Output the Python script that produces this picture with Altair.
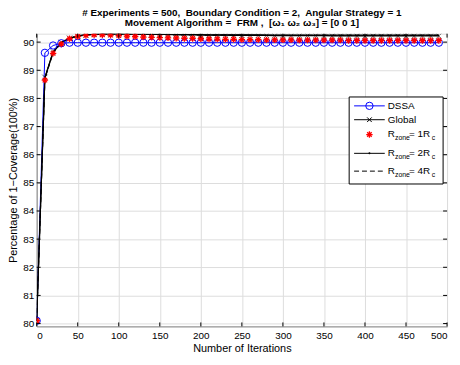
import altair as alt
import pandas as pd

# ---------------- data ----------------
iterations = [0, 10, 20, 30, 40, 50, 60, 70, 80, 90,
              100, 110, 120, 130, 140, 150, 160, 170, 180, 190,
              200, 210, 220, 230, 240, 250, 260, 270, 280, 290,
              300, 310, 320, 330, 340, 350, 360, 370, 380, 390,
              400, 410, 420, 430, 440, 450, 460, 470, 480, 490]

dssa = [80.10, 89.62, 89.88, 89.96, 89.98, 89.98, 89.98, 89.98, 89.98, 89.98,
        89.98, 89.98, 89.98, 89.98, 89.98, 89.98, 89.98, 89.98, 89.98, 89.98,
        89.98, 89.98, 89.98, 89.98, 89.98, 89.98, 89.98, 89.98, 89.98, 89.98,
        89.98, 89.98, 89.98, 89.98, 89.98, 89.98, 89.98, 89.98, 89.98, 89.98,
        89.98, 89.98, 89.98, 89.98, 89.98, 89.98, 89.98, 89.98, 89.98, 89.98]

global_cov = [80.10, 88.75, 89.66, 89.99, 90.14, 90.22, 90.26, 90.28, 90.29, 90.29,
              90.29, 90.28, 90.28, 90.28, 90.27, 90.27, 90.27, 90.26, 90.26, 90.26,
              90.25, 90.25, 90.25, 90.25, 90.24, 90.24, 90.24, 90.24, 90.24, 90.23,
              90.23, 90.23, 90.23, 90.23, 90.23, 90.23, 90.22, 90.22, 90.22, 90.22,
              90.22, 90.22, 90.22, 90.22, 90.22, 90.22, 90.22, 90.22, 90.22, 90.22]

rzone1 = [80.10, 88.65, 89.60, 89.93, 90.12, 90.20, 90.24, 90.26, 90.26, 90.25,
          90.23, 90.21, 90.20, 90.18, 90.17, 90.16, 90.15, 90.14, 90.13, 90.13,
          90.12, 90.11, 90.11, 90.10, 90.10, 90.09, 90.09, 90.09, 90.08, 90.08,
          90.08, 90.08, 90.07, 90.07, 90.07, 90.07, 90.07, 90.07, 90.06, 90.06,
          90.06, 90.06, 90.06, 90.06, 90.06, 90.06, 90.06, 90.06, 90.06, 90.06]

rzone2 = [80.10, 88.72, 89.64, 89.98, 90.14, 90.22, 90.26, 90.28, 90.29, 90.29,
          90.29, 90.29, 90.28, 90.28, 90.28, 90.28, 90.27, 90.27, 90.27, 90.27,
          90.27, 90.26, 90.26, 90.26, 90.26, 90.26, 90.26, 90.26, 90.25, 90.25,
          90.25, 90.25, 90.25, 90.25, 90.25, 90.25, 90.25, 90.25, 90.25, 90.25,
          90.25, 90.25, 90.25, 90.25, 90.25, 90.25, 90.25, 90.25, 90.25, 90.25]

rzone4 = [80.10, 88.70, 89.63, 89.97, 90.13, 90.21, 90.25, 90.27, 90.28, 90.28,
          90.28, 90.28, 90.27, 90.27, 90.27, 90.27, 90.26, 90.26, 90.26, 90.26,
          90.25, 90.25, 90.25, 90.25, 90.25, 90.25, 90.24, 90.24, 90.24, 90.24,
          90.24, 90.24, 90.24, 90.24, 90.24, 90.24, 90.24, 90.24, 90.24, 90.24,
          90.24, 90.24, 90.24, 90.24, 90.24, 90.24, 90.24, 90.24, 90.24, 90.24]

x_ticks = [0, 50, 100, 150, 200, 250, 300, 350, 400, 450, 500]
y_ticks = [80, 81, 82, 83, 84, 85, 86, 87, 88, 89, 90]

NB = "\u00a0"
title_lines = [f"# Experiments = 500,{NB} Boundary Condition = 2,{NB} Angular Strategy = 1",
               f"Movement Algorithm ={NB} FRM ,{NB} [\u03c9\u2081 \u03c9\u2082 \u03c9\u2083] = [0 0 1]"]

# ---------------- layout ----------------
W, H = 415, 296
FONT = "Liberation Sans"

df = pd.DataFrame({"it": iterations, "dssa": dssa, "glob": global_cov,
                   "r1": rzone1, "r2": rzone2, "r4": rzone4})

xscale = alt.Scale(domain=[0, 500], nice=False, zero=False)
yscale = alt.Scale(domain=[79.9, 90.3], nice=False, zero=False)

xaxis = alt.Axis(values=x_ticks, title="Number of Iterations", tickSize=0,
                 labelPadding=4, titlePadding=2, grid=True, titleFontWeight="normal")
yaxis = alt.Axis(values=y_ticks, title="Percentage of 1\u2212Coverage(100%)",
                 tickSize=0, labelPadding=3, titlePadding=4, grid=True, titleFontWeight="normal")


def X(field="it"):
    return alt.X(f"{field}:Q", scale=xscale, axis=xaxis)


def Y(field):
    return alt.Y(f"{field}:Q", scale=yscale, axis=yaxis)


base = alt.Chart(df)

XMARK = "M-1,-1L1,1M-1,1L1,-1"
STAR = "M-1,0L1,0M0,-1L0,1M-0.7,-0.7L0.7,0.7M-0.7,0.7L0.7,-0.7"

dssa_line = base.mark_line(color="#0000ff", strokeWidth=1, clip=True).encode(x=X(), y=Y("dssa"))
dssa_pts = base.mark_point(shape="circle", size=55, filled=False, color="#0000ff",
                           strokeWidth=1, opacity=1, clip=True).encode(x=X(), y=Y("dssa"))

glob_line = base.mark_line(color="black", strokeWidth=1.2, clip=True).encode(x=X(), y=Y("glob"))
glob_pts = base.mark_point(shape=XMARK, size=30, filled=False, color="black",
                           strokeWidth=0.8, opacity=0.7, clip=True).encode(x=X(), y=Y("glob"))

r2_line = base.mark_line(color="black", strokeWidth=1.2, clip=True).encode(x=X(), y=Y("r2"))
r4_line = base.mark_line(color="black", strokeWidth=1.2, strokeDash=[5, 3], clip=True).encode(x=X(), y=Y("r4"))

r1_pts = base.mark_point(shape=STAR, size=42, filled=False, color="#ff0000",
                         strokeWidth=1.3, opacity=1, clip=True).encode(x=X(), y=Y("r1"))

# inward ticks (box style)
xt = pd.DataFrame({"it": x_ticks})
yt = pd.DataFrame({"dssa": y_ticks})
xt_bot = alt.Chart(xt).mark_rule(color="black", strokeWidth=1).encode(
    x=X(), y=alt.value(H - 4), y2=alt.value(H))
xt_top = alt.Chart(xt).mark_rule(color="black", strokeWidth=1).encode(
    x=X(), y=alt.value(0), y2=alt.value(4))
yt_left = alt.Chart(yt).mark_rule(color="black", strokeWidth=1).encode(
    y=Y("dssa"), x=alt.value(0), x2=alt.value(4))
yt_right = alt.Chart(yt).mark_rule(color="black", strokeWidth=1).encode(
    y=Y("dssa"), x=alt.value(W - 4), x2=alt.value(W))

# ---------------- legend (pixel layout) ----------------
LX0, LX1, LY0, LY1 = 316, 411, 64, 152
rows = {"dssa": 73, "glob": 87, "r1": 102, "r2": 121, "r4": 139}
seg0, seg1, segm = 321, 352, 336.5
tx = 355

one = pd.DataFrame({"a": [0]})

leg_box = alt.Chart(one).mark_rect(
    fill="white", stroke="black", strokeWidth=1).encode(
    x=alt.value(LX0), x2=alt.value(LX1), y=alt.value(LY0), y2=alt.value(LY1))


def seg(row, color, dash=None, width=1.0):
    kw = dict(color=color, strokeWidth=width)
    if dash:
        kw["strokeDash"] = dash
    return alt.Chart(one).mark_rule(**kw).encode(
        x=alt.value(seg0), x2=alt.value(seg1), y=alt.value(row), y2=alt.value(row))


def sym(row, shape, color, size, filled=False, sw=1.0):
    return alt.Chart(one).mark_point(
        shape=shape, size=size, filled=filled, color=color, strokeWidth=sw, opacity=1).encode(
        x=alt.value(segm), y=alt.value(row))


leg_items = [
    seg(rows["dssa"], "#0000ff"),
    sym(rows["dssa"], "circle", "#0000ff", 55),
    seg(rows["glob"], "black"),
    sym(rows["glob"], XMARK, "black", 22, sw=1.0),
    sym(rows["r1"], STAR, "#ff0000", 42, sw=1.3),
    seg(rows["r2"], "black"),
    sym(rows["r2"], "circle", "black", 4, filled=True),
    seg(rows["r4"], "black", dash=[5, 3]),
]


def txt(x, y, s, size=10):
    return alt.Chart(one).mark_text(
        text=s, font=FONT, fontSize=size, align="left", baseline="alphabetic", color="black").encode(
        x=alt.value(x), y=alt.value(y))


texts = [txt(tx, rows["dssa"] + 3.5, "DSSA"), txt(tx, rows["glob"] + 3.5, "Global")]
for key, lab in [("r1", "=" + NB + "1R"), ("r2", "=" + NB + "2R"), ("r4", "=" + NB + "4R")]:
    yb = rows[key] + 2.5
    texts.append(txt(tx, yb, "R"))
    texts.append(txt(tx + 7.3, yb + 3.2, "zone", 7))
    texts.append(txt(tx + 21.5, yb, lab))
    texts.append(txt(tx + 44.5, yb + 3.2, "c", 7))

chart = alt.layer(
    dssa_line, glob_line, r2_line, r4_line, glob_pts, dssa_pts, r1_pts,
    xt_bot, xt_top, yt_left, yt_right,
    leg_box, *leg_items, *texts,
).properties(
    width=W, height=H,
    padding={"left": 29, "top": 24, "right": 5, "bottom": 30},
    autosize=alt.AutoSizeParams(type="none"),
    title=alt.TitleParams(text=title_lines, anchor="middle", fontSize=10, fontWeight="bold",
                          font=FONT, lineHeight=10, offset=5, color="black"),
).configure_view(stroke="black", strokeWidth=1).configure_axis(
    labelFont=FONT, titleFont=FONT, labelFontSize=10, titleFontSize=10,
    labelColor="black", titleColor="black", titleFontWeight="normal",
    domainColor="black", domainWidth=1,
    gridColor="#555555", gridDash=[1, 3], gridWidth=0.7, gridOpacity=1,
).configure(background="white")

chart.save("out.html", embed_options={"renderer": "svg", "actions": False})
